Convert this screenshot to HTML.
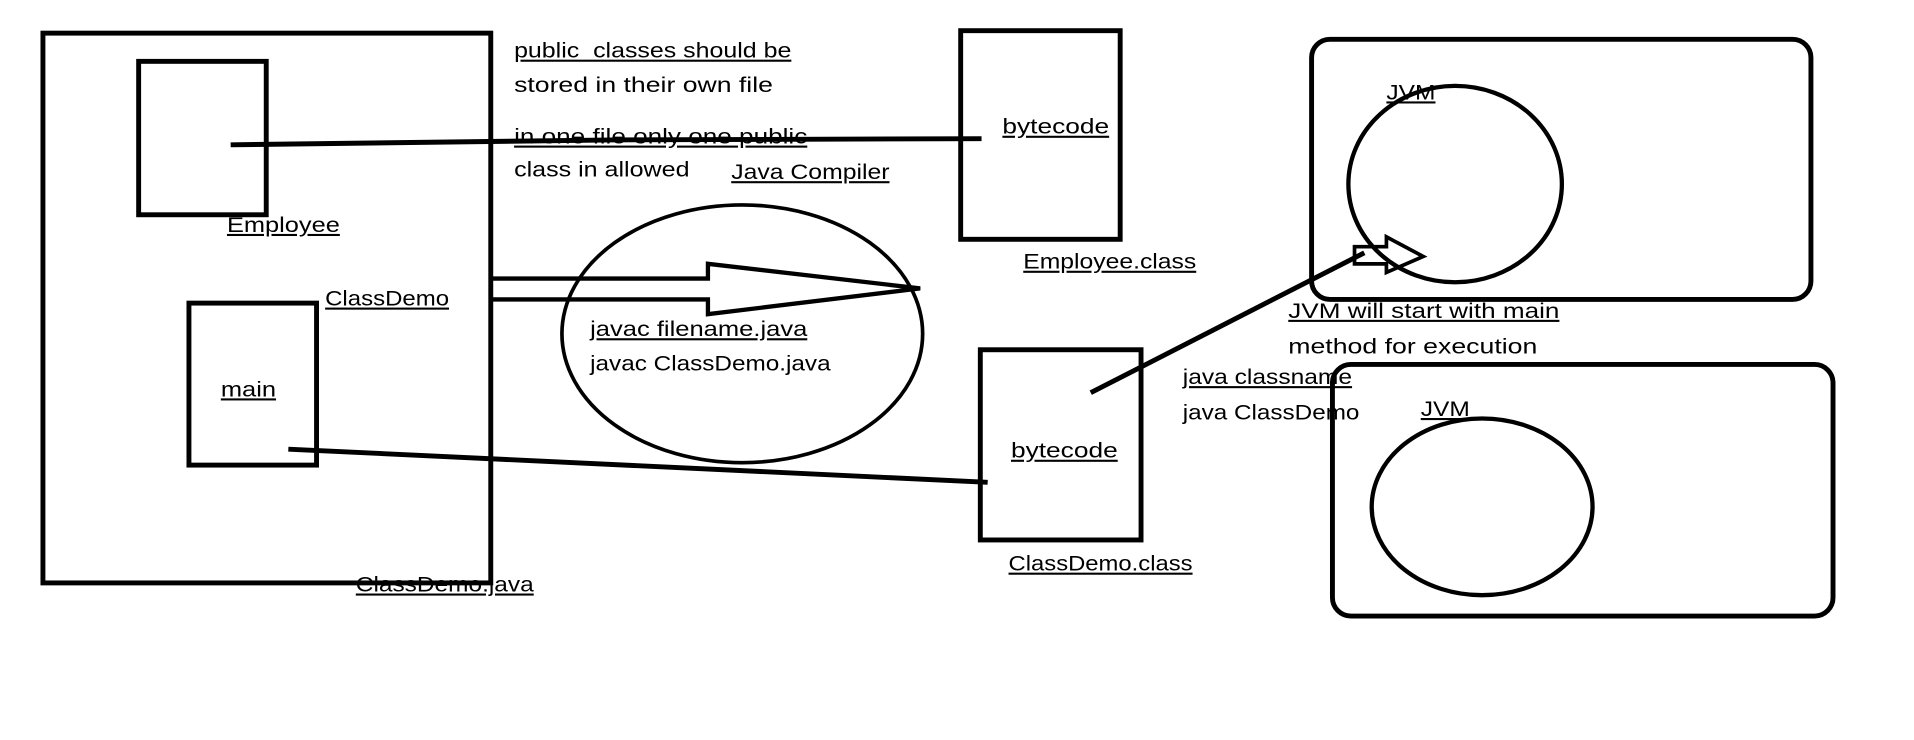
<!DOCTYPE html>
<html><head><meta charset="utf-8"><style>
html,body{margin:0;padding:0;background:#fff;}
svg{display:block;}
text{font-family:"Liberation Sans",sans-serif;font-size:17px;fill:#000;}
</style></head><body>
<svg width="1914" height="740" viewBox="0 0 1560 603" preserveAspectRatio="none" xmlns="http://www.w3.org/2000/svg">
<g fill="none" stroke="#000" stroke-width="4">
<rect x="35" y="27" width="365" height="448"/>
<rect x="113" y="50" width="104" height="125"/>
<rect x="154" y="247" width="104" height="132"/>
<rect x="783" y="25" width="130" height="170"/>
<rect x="799" y="285" width="131" height="155"/>
<ellipse cx="605" cy="272" rx="147" ry="105" stroke-width="3"/>
<rect x="1069" y="32" width="407" height="212" rx="15"/>
<rect x="1086" y="297" width="408" height="205" rx="15"/>
<ellipse cx="1186" cy="150" rx="87" ry="80" stroke-width="3.5"/>
<ellipse cx="1208" cy="413" rx="90" ry="72" stroke-width="3.5"/>
<polyline points="188,118 500,114 800,113"/>
<line x1="235" y1="366" x2="805" y2="393"/>
<polygon points="400,227 577,227 577,215 750,235 577,256 577,244 400,244" stroke-width="3.5"/>
<line x1="889" y1="320" x2="1112" y2="206"/>
<polygon points="1104,201 1130,201 1130,193 1160,209 1130,222 1130,215 1104,215" stroke-width="3"/>
</g>
<g text-decoration="underline">
<text x="419" y="47" textLength="226" lengthAdjust="spacingAndGlyphs">public&#160; classes should be</text>
<text x="419" y="117" textLength="239" lengthAdjust="spacingAndGlyphs">in one file only one public</text>
<text x="596" y="146" textLength="129" lengthAdjust="spacingAndGlyphs">Java Compiler</text>
<text x="185" y="189" textLength="92" lengthAdjust="spacingAndGlyphs">Employee</text>
<text x="265" y="249" textLength="101" lengthAdjust="spacingAndGlyphs">ClassDemo</text>
<text x="180" y="323" textLength="45" lengthAdjust="spacingAndGlyphs">main</text>
<text x="290" y="482" textLength="145" lengthAdjust="spacingAndGlyphs">ClassDemo.java</text>
<text x="481" y="274" textLength="177" lengthAdjust="spacingAndGlyphs">javac filename.java</text>
<text x="817" y="109" textLength="87" lengthAdjust="spacingAndGlyphs">bytecode</text>
<text x="834" y="219" textLength="141" lengthAdjust="spacingAndGlyphs">Employee.class</text>
<text x="824" y="373" textLength="87" lengthAdjust="spacingAndGlyphs">bytecode</text>
<text x="822" y="465" textLength="150" lengthAdjust="spacingAndGlyphs">ClassDemo.class</text>
<text x="1130" y="81" textLength="40" lengthAdjust="spacingAndGlyphs">JVM</text>
<text x="1050" y="259" textLength="221" lengthAdjust="spacingAndGlyphs">JVM will start with main</text>
<text x="964" y="313" textLength="138" lengthAdjust="spacingAndGlyphs">java classname</text>
<text x="1158" y="339" textLength="40" lengthAdjust="spacingAndGlyphs">JVM</text>
</g>
<text x="419" y="75" textLength="211" lengthAdjust="spacingAndGlyphs">stored in their own file</text>
<text x="419" y="144" textLength="143" lengthAdjust="spacingAndGlyphs">class in allowed</text>
<text x="481" y="302" textLength="196" lengthAdjust="spacingAndGlyphs">javac ClassDemo.java</text>
<text x="1050" y="288" textLength="203" lengthAdjust="spacingAndGlyphs">method for execution</text>
<text x="964" y="342" textLength="144" lengthAdjust="spacingAndGlyphs">java ClassDemo</text>
</svg>
</body></html>
